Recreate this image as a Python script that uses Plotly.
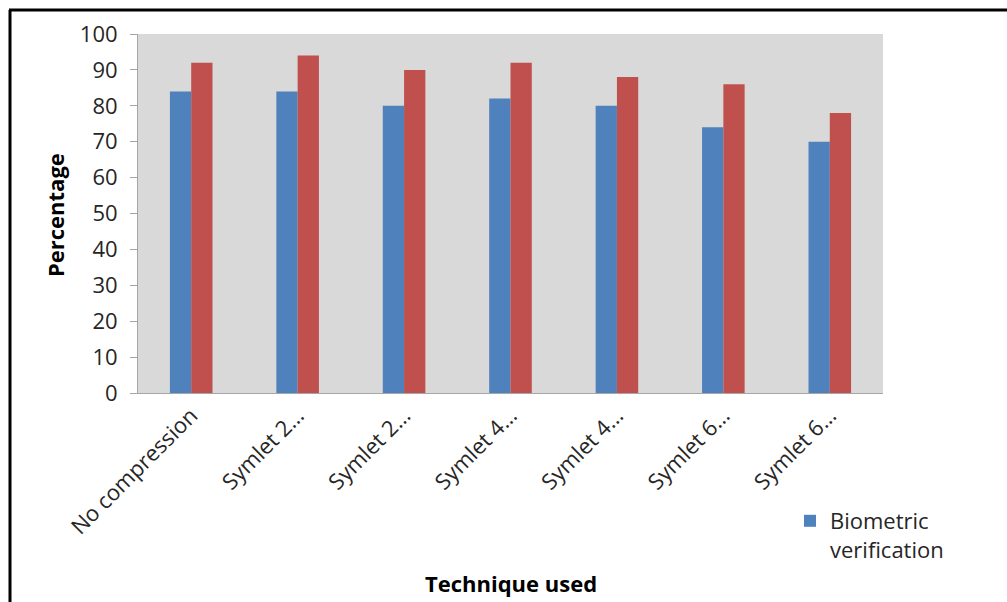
import plotly.graph_objects as go

# Compression technique and detection rates (%)
techniques = ["No compression", "Symlet 2…", "Symlet 2…", "Symlet 4…",
              "Symlet 4…", "Symlet 6…", "Symlet 6…"]
biometric_verification = [84, 84, 80, 82, 80, 74, 70]
second_series = [92, 94, 90, 92, 88, 86, 78]
y_ticks = [0, 10, 20, 30, 40, 50, 60, 70, 80, 90, 100]

FONT = "Open Sans"
TXT = "#262626"
cats = list(range(len(techniques)))

fig = go.Figure()
fig.add_trace(go.Bar(
    x=cats, y=biometric_verification, name="Biometric<br>verification",
    marker=dict(color="#4F81BD", line=dict(width=0)),
))
fig.add_trace(go.Bar(
    x=cats, y=second_series, name="", showlegend=False,
    marker=dict(color="#C0504D", line=dict(width=0)),
))

# plot-area geometry in pixels
W, H = 1007, 602
L, R, T, B = 138, 883, 34, 393

def px(x):
    return (x - L) / (R - L)

def py(y):
    return (B - y) / (B - T)

fig.update_layout(
    width=W, height=H,
    margin=dict(l=L, r=W - R, t=T, b=H - B),
    paper_bgcolor="white",
    plot_bgcolor="#D9D9D9",
    barmode="group",
    bargap=0.6,
    bargroupgap=0,
    font=dict(family=FONT, size=22, color=TXT),
    showlegend=True,
    legend=dict(
        x=px(790), y=py(500), xanchor="left", yanchor="top", valign="top",
        font=dict(family=FONT, size=22, color=TXT),
        bgcolor="rgba(0,0,0,0)", itemsizing="constant", itemwidth=30,
    ),
    xaxis=dict(
        tickmode="array", tickvals=cats, ticktext=techniques,
        tickangle=-45, range=[-0.5, len(techniques) - 0.5],
        showline=True, linecolor="#A6A6A6", linewidth=1,
        showgrid=False, zeroline=False, ticks="",
        tickfont=dict(family=FONT, size=22, color=TXT),
    ),
    yaxis=dict(
        range=[0, 100], tickmode="array", tickvals=y_ticks,
        showline=True, linecolor="#A6A6A6", linewidth=1,
        ticks="outside", ticklen=7, tickcolor="#A6A6A6",
        ticklabelstandoff=8,
        showgrid=False, zeroline=False,
        tickfont=dict(family=FONT, size=22, color=TXT),
    ),
    annotations=[
        dict(text="<b>Percentage</b>", x=px(55), y=py(215), xref="paper", yref="paper",
             xanchor="center", yanchor="middle",
             textangle=-90, showarrow=False, font=dict(family=FONT, size=22, color="black")),
        dict(text="<b>Technique used</b>", x=px(511), y=py(583), xref="paper", yref="paper",
             xanchor="center", yanchor="middle",
             showarrow=False, font=dict(family=FONT, size=22, color="black")),
    ],
    shapes=[
        dict(type="line", xref="paper", yref="paper", x0=px(10), x1=px(10), y0=py(10), y1=py(610),
             line=dict(color="black", width=3)),
        dict(type="line", xref="paper", yref="paper", x0=px(9), x1=px(1010), y0=py(10), y1=py(10),
             line=dict(color="black", width=3)),
    ],
)

fig.write_html("out.html")
